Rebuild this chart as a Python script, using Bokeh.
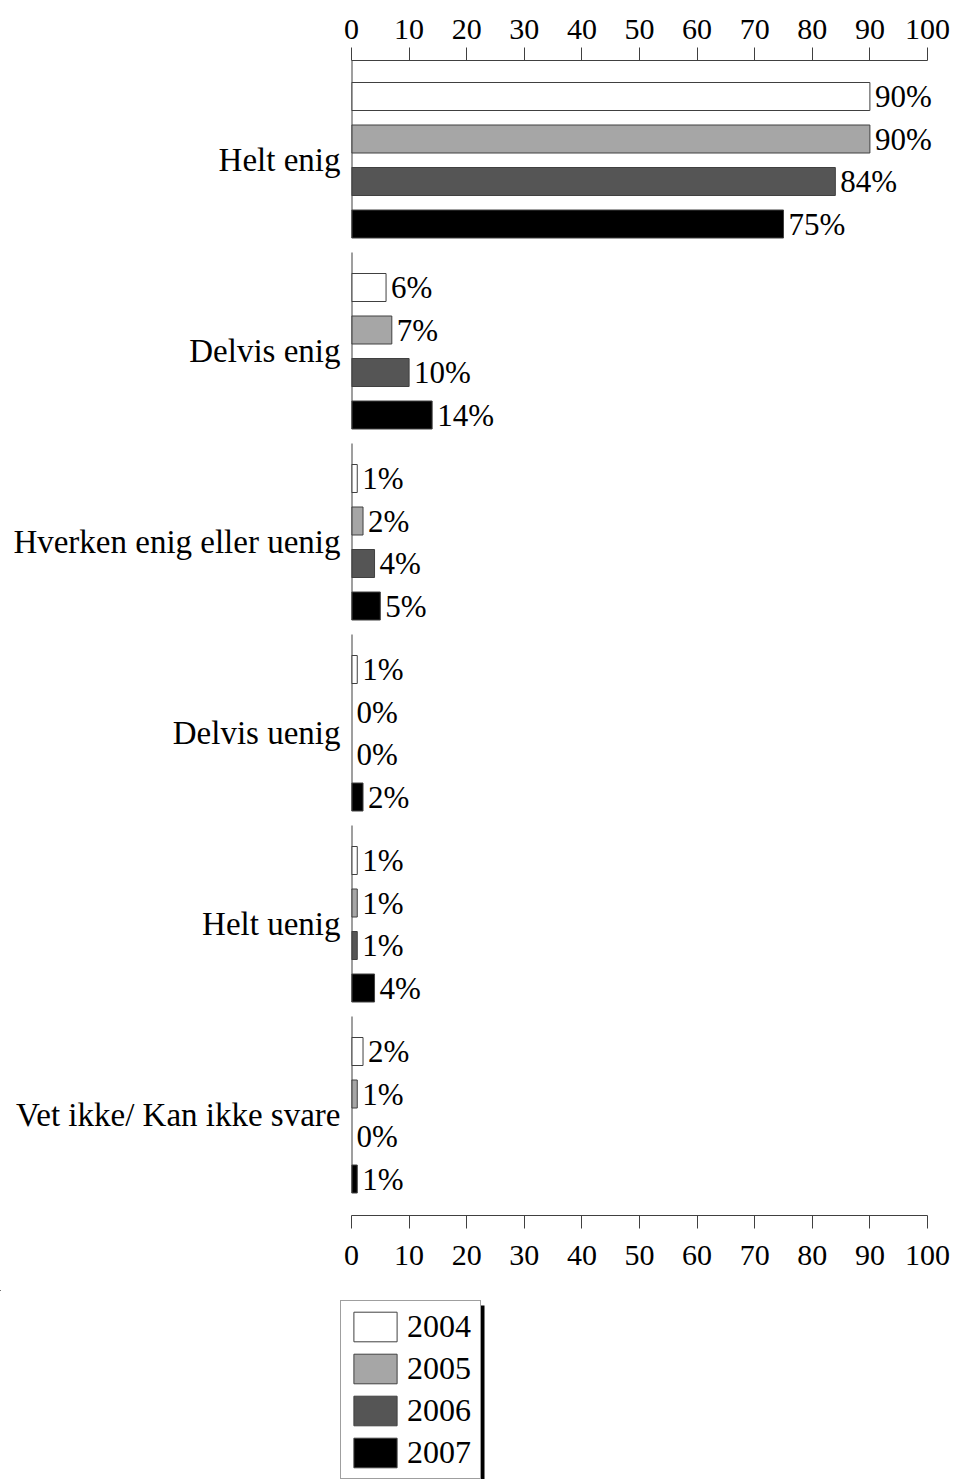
from bokeh.plotting import figure
from bokeh.models import (Range1d, LinearAxis, FixedTicker, Legend, LegendItem,
                          ColumnDataSource)
from bokeh.embed import file_html
from bokeh.resources import INLINE
from bokeh.core.properties import value

categories = ["Helt enig", "Delvis enig", "Hverken enig eller uenig",
              "Delvis uenig", "Helt uenig", "Vet ikke/ Kan ikke svare"]
years = ["2004", "2005", "2006", "2007"]
v2004 = [90, 6, 1, 1, 1, 2]
v2005 = [90, 7, 2, 0, 1, 1]
v2006 = [84, 10, 4, 0, 1, 0]
v2007 = [75, 14, 5, 2, 4, 1]
x_ticks = [0, 10, 20, 30, 40, 50, 60, 70, 80, 90, 100]

series = [v2004, v2005, v2006, v2007]
fills = ["#ffffff", "#a6a6a6", "#555555", "#000000"]
SERIF = "Liberation Serif"
EDGE = "#404040"

# layout in frame pixel units (y grows downward)
G = 191.0      # group pitch
OFF = 21.0     # first bar offset in group
BP = 42.5      # bar pitch
BH = 28.0      # bar height
FRAME_H = 1155
H1 = 1290

p = figure(width=958, height=H1, output_backend="svg", toolbar_location=None,
           x_range=Range1d(0, 100 * 607 / 576), y_range=Range1d(FRAME_H, 0),
           min_border_left=351, min_border_right=0, min_border_top=60,
           min_border_bottom=H1 - 60 - FRAME_H)
p.outline_line_color = None
p.grid.visible = False

tops = [1 + G * k for k in range(len(categories))]

for j, (yr, vals, col) in enumerate(zip(years, series, fills)):
    ys = [t + OFF + BP * j + BH / 2 for t in tops]
    src = ColumnDataSource(dict(y=ys, right=vals,
                                lab=[f"{v}%" for v in vals],
                                lw=[1 if v > 0 else 0 for v in vals]))
    p.hbar(y="y", left=0, right="right", height=BH, source=src,
           fill_color=col, line_color=EDGE, line_width="lw")
    p.text(x="right", y="y", text="lab", source=src, x_offset=5,
           text_baseline="middle", text_align="left",
           text_font=value(SERIF), text_font_size="31px", text_color="black")

# left axis line, broken per group
p.segment(x0=[0] * len(tops), y0=[t if k > 0 else 0 for k, t in enumerate(tops)],
          x1=[0] * len(tops), y1=[t + OFF + BP * 3 + BH for t in tops],
          line_color=EDGE, line_width=2)

# y labels via left axis
centers = [t + OFF + (BP * 3 + BH) / 2 for t in tops]
yax = p.yaxis[0]
yax.ticker = FixedTicker(ticks=centers)
yax.major_label_overrides = {c: name for c, name in zip(centers, categories)}
yax.axis_line_color = None
yax.major_tick_line_color = None
yax.minor_tick_line_color = None
yax.major_tick_out = 0
yax.major_tick_in = 0
yax.major_label_standoff = 11
yax.major_label_text_font = SERIF
yax.major_label_text_font_size = "33px"
yax.major_label_text_color = "black"

def style_x(ax, standoff):
    ax.ticker = FixedTicker(ticks=x_ticks)
    ax.bounds = (0, 100)
    ax.axis_line_color = EDGE
    ax.major_tick_line_color = EDGE
    ax.minor_tick_line_color = None
    ax.major_tick_out = 13
    ax.major_tick_in = 0
    ax.major_label_standoff = standoff
    ax.major_label_text_font = SERIF
    ax.major_label_text_font_size = "30px"
    ax.major_label_text_color = "black"

style_x(p.xaxis[0], 17)
top_ax = LinearAxis()
style_x(top_ax, 9)
p.add_layout(top_ax, "above")

# legend panel below the chart (independent root so nothing is aligned)
H2 = 1479 - H1
p2 = figure(width=958, height=H2, output_backend="svg", toolbar_location=None,
            x_range=Range1d(0, 958), y_range=Range1d(H2, 0),
            x_axis_type=None, y_axis_type=None, min_border=0)
p2.outline_line_color = None
p2.grid.visible = False

# legend proxies (kept outside the visible range)
leg_renderers = []
for yr, col in zip(years, fills):
    src = ColumnDataSource(dict(y=[-500], left=[-500], right=[-499]))
    r = p2.hbar(y="y", left="left", right="right", height=1, source=src,
                fill_color=col, line_color=EDGE, line_width=1)
    leg_renderers.append(r)

# legend shadow
p2.quad(left=[479], right=[484], top=[15], bottom=[H2], fill_color="black",
        line_color=None)

legend = Legend(items=[LegendItem(label=yr, renderers=[r]) for yr, r in zip(years, leg_renderers)],
                location=(340, 0), glyph_width=54, glyph_height=37,
                label_height=37, label_width=66, label_standoff=5, spacing=5,
                padding=7, margin=0,
                border_line_color=EDGE, border_line_width=1,
                background_fill_color="white", background_fill_alpha=1,
                label_text_font=SERIF, label_text_font_size="32px",
                label_text_color="black")
p2.add_layout(legend, "center")

open("out.html", "w").write(file_html([p, p2], INLINE))
